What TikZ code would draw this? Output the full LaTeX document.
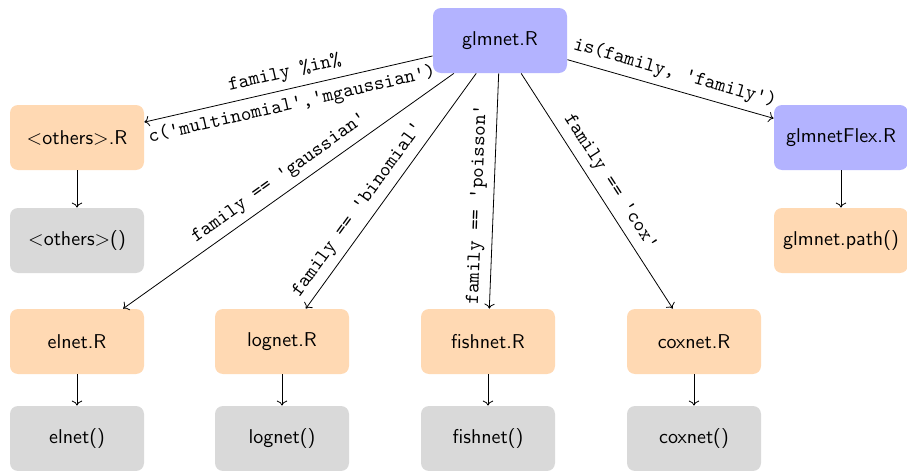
\documentclass[tikz,border=0pt]{standalone}
\usetikzlibrary{arrows.meta}
\definecolor{purp}{RGB}{179,179,255}
\definecolor{peach}{RGB}{255,217,179}
\definecolor{lgray}{RGB}{217,217,217}
\begin{document}
\begin{tikzpicture}[x=0.5pt,y=-0.5pt,
  box/.style={rounded corners=4pt,minimum width=67pt,minimum height=32.5pt,inner sep=2pt,font=\sffamily},
  rbox/.style={box,fill=purp},
  obox/.style={box,fill=peach},
  gbox/.style={box,fill=lgray},
  arr/.style={->,>=To},
  lab/.style={font=\ttfamily,sloped,midway}]
\useasboundingbox (0,0) rectangle (907,471);
\node[rbox] (glmnet) at (500,40.5) {glmnet.R};
\node[obox] (othersR) at (77,137.5) {$<$others$>$.R};
\node[gbox] (othersF) at (77,240.5) {$<$others$>$()};
\node[rbox] (flex) at (841,137.5) {glmnetFlex.R};
\node[obox] (path) at (841,240.5) {glmnet.path()};
\node[obox] (elnetR) at (77,341.5) {elnet.R};
\node[gbox] (elnetF) at (77,438.5) {elnet()};
\node[obox] (lognetR) at (282,341.5) {lognet.R};
\node[gbox] (lognetF) at (282,438.5) {lognet()};
\node[obox] (fishnetR) at (488,341.5) {fishnet.R};
\node[gbox] (fishnetF) at (488,438.5) {fishnet()};
\node[obox] (coxnetR) at (694,341.5) {coxnet.R};
\node[gbox] (coxnetF) at (694,438.5) {coxnet()};
\draw[arr] (glmnet) -- node[lab,above]{family \%in\%} node[lab,below]{c('multinomial','mgaussian')} (othersR);
\draw[arr] (glmnet) -- node[lab,above]{family == 'gaussian'} (elnetR);
\draw[arr] (glmnet) -- node[lab,above,pos=0.62]{family == 'binomial'} (lognetR);
\draw[arr] (glmnet) -- node[lab,above,pos=0.56]{family == 'poisson'} (fishnetR);
\draw[arr] (glmnet) -- node[lab,above]{family == 'cox'} (coxnetR);
\draw[arr] (glmnet) -- node[lab,above]{is(family, 'family')} (flex);
\draw[arr] (othersR) -- (othersF);
\draw[arr] (flex) -- (path);
\draw[arr] (elnetR) -- (elnetF);
\draw[arr] (lognetR) -- (lognetF);
\draw[arr] (fishnetR) -- (fishnetF);
\draw[arr] (coxnetR) -- (coxnetF);
\end{tikzpicture}
\end{document}
